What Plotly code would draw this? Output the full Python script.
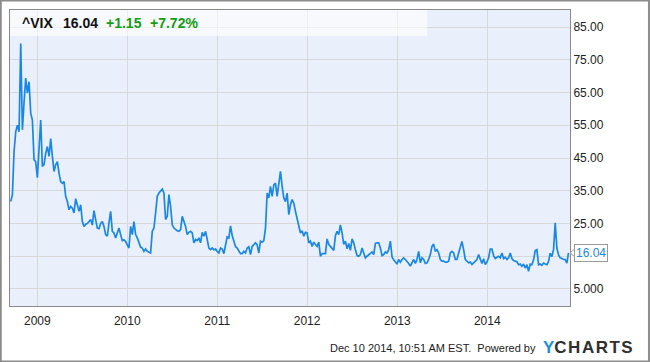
import plotly.graph_objects as go
import pandas as pd

# ---- data ----
first_date = "2008-09-15"
last_date = "2014-11-27"
vix_values = [
    31.7, 33.8, 47.0, 53.0, 55.0, 53.0, 80.0, 53.6, 62.0, 69.4, 64.8, 68.3, 58.7, 56.6, 44.4, 43.9,
    39.0, 48.0, 56.6, 42.4, 43.0, 46.5, 48.5, 45.5, 50.9, 45.5, 40.9, 42.9, 43.9, 40.4, 37.8, 37.3,
    37.8, 33.3, 31.7, 29.2, 30.2, 29.7, 28.2, 32.6, 30.7, 28.7, 30.7, 25.6, 24.1, 24.8, 25.0, 25.5,
    26.2, 24.5, 28.9, 26.2, 23.6, 23.4, 25.0, 25.6, 24.1, 21.6,
    21.1, 25.1, 28.7, 22.6, 22.1, 20.6, 22.1, 23.6, 21.6, 19.8, 20.0, 19.5, 18.5, 17.5, 24.1, 21.6,
    25.6, 21.6, 20.6, 19.1, 17.8, 17.5, 16.5, 17.2, 16.5, 16.2, 16.0, 22.6, 23.6, 28.2, 33.3, 34.3,
    34.8, 35.5, 34.3, 26.2, 27.2, 33.8, 30.2, 24.6, 23.6, 23.1, 22.8, 22.6, 23.1, 27.2, 25.6, 24.1,
    21.6, 22.3, 22.6, 22.1, 19.1, 20.1, 19.8, 20.6, 19.1, 22.3, 21.1, 22.6, 20.1,
    17.5, 17.0, 17.5, 17.0, 17.2, 16.5, 16.0, 17.5, 17.2, 15.8, 18.0, 20.9, 20.6, 24.3, 21.3, 19.1,
    17.9, 17.5, 16.8, 15.8, 15.8, 16.5, 16.0, 17.5, 17.9, 15.5, 18.0, 18.5, 19.1, 18.5, 16.0, 19.6,
    19.3, 19.8, 23.6, 34.3, 32.8, 36.3, 33.3, 36.8, 37.3, 33.3, 37.8, 40.9, 36.3, 32.8, 31.7, 34.3,
    27.7, 30.7, 32.3, 31.2, 28.7, 26.2, 23.6, 22.1, 22.8, 21.1, 22.3,
    22.1, 19.1, 19.6, 18.0, 19.3, 18.6, 18.0, 19.3, 15.0, 15.8, 15.7, 15.8, 20.3, 18.6, 18.0, 17.5,
    16.8, 21.3, 22.6, 21.6, 24.6, 22.1, 18.6, 19.6, 17.3, 18.9, 16.8, 20.3, 19.1, 17.0, 15.2, 15.0,
    15.5, 17.5, 16.0, 14.5, 15.0, 15.5, 16.0, 16.3, 15.5, 18.9, 19.1, 19.1, 17.5, 15.2, 15.5, 16.3,
    16.0, 17.0, 19.6, 14.8, 13.9, 13.4, 12.6,
    14.0, 13.2, 14.0, 14.5, 14.0, 13.5, 12.8, 12.0, 13.0, 14.0, 12.8, 14.0, 16.5, 13.0, 14.5, 14.0,
    12.8, 13.0, 14.0, 15.5, 18.0, 18.7, 16.5, 17.0, 16.0, 14.0, 13.5, 13.5, 13.2, 13.2, 13.5, 16.0,
    16.5, 16.0, 14.0, 14.0, 16.0, 18.0, 19.5, 17.0, 14.0, 13.5, 13.0, 13.2, 12.5, 13.0, 13.5, 14.0,
    15.5, 14.0, 12.8, 14.2, 12.5, 13.2, 14.5, 17.2, 17.2, 15.2, 14.3,
    14.7, 15.0, 14.5, 16.0, 14.3, 14.7, 14.0, 14.5, 16.0, 14.3, 13.7, 13.5, 13.3, 12.4, 12.6, 11.9,
    12.6, 11.4, 12.4, 10.4, 12.6, 12.4, 13.9, 16.7, 17.0, 12.4, 12.6, 12.2, 12.9, 12.6, 12.4, 13.4,
    15.9, 14.9, 17.0, 25.2, 17.5, 15.4, 14.5, 14.3, 14.0, 14.0, 12.9, 16.04,
]
year_ticks = ["2009-01-01", "2010-01-01", "2011-01-01", "2012-01-01", "2013-01-01", "2014-01-01"]
year_labels = ["2009", "2010", "2011", "2012", "2013", "2014"]
y_ticks = [85, 75, 65, 55, 45, 35, 25, 15, 5]
y_labels = ["85.00", "75.00", "65.00", "55.00", "45.00", "35.00", "25.00", "", "5.000"]
ticker = "^VIX"
last_price = "16.04"
change = "+1.15"
change_pct = "+7.72%"
last_value = 16.04
footer = "Dec 10 2014, 10:51 AM EST.  Powered by"

dates = pd.date_range(first_date, last_date, periods=len(vix_values))

FONT = "Liberation Sans, Arial, sans-serif"
LINE = "#1a87e6"
GRID = "#d8d8d8"
BORDER = "#8a8a8a"

fig = go.Figure()
fig.add_trace(go.Scatter(x=dates, y=vix_values, mode="lines",
                         line=dict(color=LINE, width=1.7), hoverinfo="x+y"))

fig.update_layout(
    width=650, height=362,
    margin=dict(l=10, r=80, t=10, b=56),
    paper_bgcolor="white",
    plot_bgcolor="#eaf0fb",
    showlegend=False,
    font=dict(family=FONT, size=12, color="#222"),
    xaxis=dict(
        type="date", range=["2008-09-12", "2014-12-03"],
        tickvals=year_ticks, ticktext=year_labels,
        showgrid=True, gridcolor=GRID, gridwidth=1,
        showline=True, linecolor=BORDER, linewidth=1, mirror=True,
        ticks="", zeroline=False, tickfont=dict(size=12, color="#222"),
        ticklabelstandoff=4,
    ),
    yaxis=dict(
        side="right", range=[-0.2, 90.2],
        tickvals=y_ticks, ticktext=y_labels,
        showgrid=True, gridcolor=GRID, gridwidth=1,
        showline=True, linecolor=BORDER, linewidth=1, mirror=True,
        ticks="", zeroline=False, tickfont=dict(size=12, color="#222"),
    ),
)

shapes = [
    # header band
    dict(type="rect", xref="paper", yref="paper", x0=0, x1=0.745, y0=0.912, y1=1,
         fillcolor="rgba(255,255,255,0.6)", line=dict(width=0), layer="above"),
    # outer frame
    dict(type="rect", xref="paper", yref="paper", x0=-0.0165, x1=1.1410, y0=-0.1875, y1=1.0320,
         fillcolor="rgba(0,0,0,0)", line=dict(color="#8c8c8c", width=2), layer="above"),
    # pointer of the price tag
    dict(type="path", xref="paper", yref="y", xsizemode="pixel", ysizemode="pixel",
         xanchor=1, yanchor=last_value, path="M 6 5 L 0 0 L 6 -5 Z",
         fillcolor="white", line=dict(color="#9a9a9a", width=1), layer="above"),
]
fig.update_layout(shapes=shapes)

hdr_y = 0.956
annotations = [
    dict(text="<b>%s</b>" % ticker, x=0.0180, y=hdr_y, xanchor="left"),
    dict(text="<b>%s</b>" % last_price, x=0.0910, y=hdr_y, xanchor="left"),
    dict(text="<b>%s</b>" % change, x=0.1670, y=hdr_y, xanchor="left", font_color="#149c14"),
    dict(text="<b>%s</b>" % change_pct, x=0.2470, y=hdr_y, xanchor="left", font_color="#149c14"),
]
for a in annotations:
    a.update(xref="paper", yref="paper", yanchor="middle", showarrow=False)
    a.setdefault("font_color", "#111")
    a["font"] = dict(family=FONT, size=14, color=a.pop("font_color"))
    fig.add_annotation(**a)

fig.add_annotation(text=last_price, xref="paper", yref="y", x=1, y=last_value,
                   xanchor="left", yanchor="middle", xshift=4, showarrow=False,
                   font=dict(family=FONT, size=12, color=LINE),
                   bgcolor="white", bordercolor="#9a9a9a", borderwidth=1, borderpad=1)

fig.add_annotation(text=footer, xref="paper", yref="paper", x=0.943, y=-0.142,
                   xanchor="right", yanchor="middle", showarrow=False,
                   font=dict(family=FONT, size=11, color="#222"))
fig.add_annotation(text="<span style='color:#1a8fdc'>Y</span><span style='letter-spacing:1.5px'>CHARTS</span>",
                   xref="paper", yref="paper", x=0.948, y=-0.140,
                   xanchor="left", yanchor="middle", showarrow=False,
                   font=dict(family=FONT, size=17, color="#2f2f2f", weight="bold"))

fig.write_html("out.html")
